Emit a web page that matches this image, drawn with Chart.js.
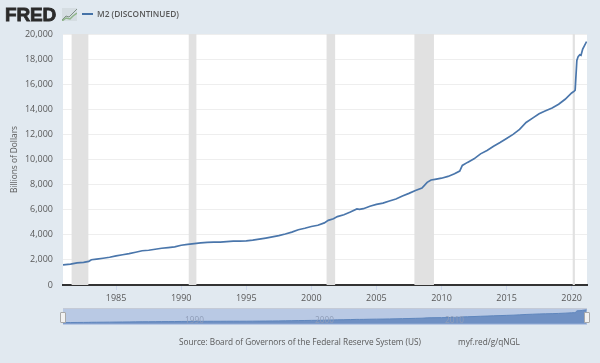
<!DOCTYPE html>
<html>
<head>
<meta charset="utf-8">
<script src="https://cdn.jsdelivr.net/npm/chart.js@4/dist/chart.umd.min.js"></script>
<style>
html, body { margin: 0; padding: 0; background: #e1e9f0; }
#wrap { position: relative; width: 600px; height: 363px; overflow: hidden; font-family: "Open Sans", sans-serif; color: #595959; }
#main { position: absolute; left: 0; top: 0; }
#nav { position: absolute; left: 63px; top: 308px; }
.logo { position: absolute; left: 5px; top: 4px; font: 900 19px "Liberation Sans", sans-serif; letter-spacing: -0.2px; color: #2b2b2b; -webkit-text-stroke: 0.8px #2b2b2b; }
.icon { position: absolute; left: 62px; top: 8px; }
.key { position: absolute; left: 82px; top: 13px; width: 11px; height: 2px; background: #4572a7; }
.name { position: absolute; left: 97px; top: 8px; font-size: 8.3px; font-weight: 600; white-space: nowrap; }
.src { position: absolute; left: 179px; top: 336px; font-size: 8.25px; white-space: nowrap; }
.url { position: absolute; left: 458px; top: 336px; font-size: 8.25px; white-space: nowrap; }
.tag { position: absolute; top: 314px; font-size: 8.25px; color: #8f9db8; }
.handle { position: absolute; top: 312px; width: 4px; height: 9px; background: #f2f2f2; border: 1px solid #a9a9a9; border-radius: 1px; }
</style>
</head>
<body>
<div id="wrap">
  <canvas id="main" width="600" height="363"></canvas>
  <canvas id="nav" width="524" height="17"></canvas>
  <div class="logo">FRED</div>
  <svg class="icon" width="15" height="13" viewBox="0 0 15 13">
    <rect width="15" height="13" fill="#d5dde2"/>
    <polyline points="0,12 4,8 7,9 11,5 15,1" fill="none" stroke="#7f8f86" stroke-width="1"/>
    <polyline points="0,13 4,10 8,11 11,8 15,5" fill="none" stroke="#8fb58a" stroke-width="1.5"/>
  </svg>
  <div class="key"></div>
  <div class="name">M2 (DISCONTINUED)</div>
  <div class="tag" style="left:185px">1990</div>
  <div class="tag" style="left:315px">2000</div>
  <div class="tag" style="left:445px">2010</div>
  <div class="handle" style="left:60px"></div>
  <div class="handle" style="left:584px"></div>
  <div class="src">Source: Board of Governors of the Federal Reserve System (US)</div>
  <div class="url">myf.red/g/qNGL</div>
</div>
<script>
const years = [1980.92, 1981.5, 1982, 1982.5, 1982.9, 1983.1, 1983.5, 1984, 1984.5, 1985, 1985.5, 1986, 1986.5, 1987, 1987.5, 1988, 1988.5, 1989, 1989.5, 1990, 1990.5, 1991, 1991.5, 1992, 1992.5, 1993, 1993.5, 1994, 1994.5, 1995, 1995.5, 1996, 1996.5, 1997, 1997.5, 1998, 1998.5, 1999, 1999.5, 2000, 2000.5, 2001, 2001.3, 2001.7, 2002, 2002.5, 2003, 2003.5, 2003.7, 2004, 2004.5, 2005, 2005.5, 2006, 2006.5, 2007, 2007.5, 2008, 2008.5, 2008.9, 2009.2, 2009.5, 2010, 2010.5, 2011, 2011.4, 2011.6, 2012, 2012.5, 2013, 2013.5, 2014, 2014.5, 2015, 2015.5, 2016, 2016.5, 2017, 2017.5, 2018, 2018.5, 2019, 2019.5, 2020, 2020.2, 2020.27, 2020.4, 2020.5, 2020.62, 2020.72, 2020.85, 2021.15]
const m2 = [1600, 1670, 1760, 1810, 1880, 2010, 2060, 2130, 2210, 2320, 2410, 2500, 2610, 2730, 2770, 2850, 2930, 2980, 3040, 3170, 3240, 3300, 3350, 3390, 3410, 3420, 3460, 3490, 3490, 3510, 3570, 3660, 3740, 3830, 3930, 4060, 4210, 4400, 4520, 4660, 4760, 4950, 5150, 5280, 5450, 5600, 5810, 6060, 6020, 6080, 6280, 6420, 6520, 6690, 6850, 7090, 7300, 7530, 7730, 8180, 8370, 8420, 8510, 8650, 8860, 9080, 9530, 9770, 10050, 10450, 10720, 11050, 11350, 11680, 12000, 12400, 12950, 13300, 13650, 13880, 14100, 14400, 14800, 15300, 15450, 15530, 17900, 18200, 18350, 18300, 18800, 19400]
const yTicks = [0, 2000, 4000, 6000, 8000, 10000, 12000, 14000, 16000, 18000, 20000]
const xTicks = [1985, 1990, 1995, 2000, 2005, 2010, 2015, 2020]
const recessionStart = [1981.58, 1990.58, 2001.17, 2007.92, 2020.08]
const recessionEnd = [1982.87, 1991.17, 2001.83, 2009.42, 2020.25]

const xMin = 1980.92
const xMax = 2021.18
const points = years.map((y, i) => ({ x: y, y: m2[i] }))

// grey recession bands, behind the line
const bands = {
  id: 'bands',
  beforeDatasetsDraw(chart) {
    const { ctx, scales, chartArea } = chart
    ctx.save()
    ctx.fillStyle = '#e1e1e1'
    recessionStart.forEach((s, i) => {
      const x1 = scales.x.getPixelForValue(s)
      const x2 = scales.x.getPixelForValue(recessionEnd[i])
      ctx.fillRect(x1, chartArea.top, x2 - x1, chartArea.height)
    })
    ctx.restore()
  }
}

// white plot area
const plotBg = {
  id: 'plotBg',
  beforeDraw(chart) {
    const { ctx, chartArea } = chart
    ctx.fillStyle = '#ffffff'
    ctx.fillRect(chartArea.left, chartArea.top, chartArea.width, chartArea.height)
  }
}

const ctxMain = document.getElementById('main')
new Chart(ctxMain, {
  type: 'line',
  data: { datasets: [{ data: points, borderColor: '#4a76ab', borderWidth: 1.7, pointRadius: 0, tension: 0, fill: false }] },
  options: {
    responsive: false,
    animation: false,
    layout: { padding: { left: 0, right: 13, top: 34, bottom: 59 } },
    plugins: { legend: { display: false }, tooltip: { enabled: false } },
    scales: {
      x: {
        type: 'linear', min: xMin, max: xMax,
        afterBuildTicks: (axis) => { axis.ticks = xTicks.map((v) => ({ value: v })) },
        afterFit: (axis) => { axis.height = 19 },
        ticks: { color: '#595959', font: { family: 'Open Sans', size: 9 }, maxRotation: 0, autoSkip: false, padding: 3, callback: (v) => String(v) },
        grid: { drawOnChartArea: false, drawTicks: true, tickLength: 5, color: '#ccd6eb' },
        border: { color: '#333333', width: 2 }
      },
      y: {
        min: 0, max: 20000,
        afterBuildTicks: (axis) => { axis.ticks = yTicks.map((v) => ({ value: v })) },
        afterFit: (axis) => { axis.width = 63 },
        title: { display: true, text: 'Billions of Dollars', color: '#595959', font: { family: 'Open Sans', size: 8.3 }, padding: { top: 10, bottom: 0 } },
        ticks: { color: '#595959', font: { family: 'Open Sans', size: 9 }, padding: 10, callback: (v) => v.toLocaleString('en-US') },
        grid: { color: '#eeeeee', drawTicks: false },
        border: { display: false }
      }
    }
  },
  plugins: [plotBg, bands]
})

// navigator strip under the chart
const ctxNav = document.getElementById('nav')
new Chart(ctxNav, {
  type: 'line',
  data: { datasets: [{ data: points, borderColor: '#5f86bd', borderWidth: 1, pointRadius: 0, tension: 0, fill: 'origin', backgroundColor: '#6f90c3' }] },
  options: {
    responsive: false,
    animation: false,
    layout: { padding: 0 },
    plugins: { legend: { display: false }, tooltip: { enabled: false } },
    scales: {
      x: { type: 'linear', display: false, min: xMin, max: xMax },
      y: { display: false, min: -1800, max: 22000 }
    }
  },
  plugins: [{
    id: 'navBg',
    beforeDraw(chart) {
      chart.ctx.fillStyle = '#b9c9e4'
      chart.ctx.fillRect(0, 0, chart.width, chart.height)
      chart.ctx.fillStyle = '#c4cad6'
      chart.ctx.fillRect(0, 0, chart.width, 1)
    }
  }]
})
</script>
</body>
</html>
